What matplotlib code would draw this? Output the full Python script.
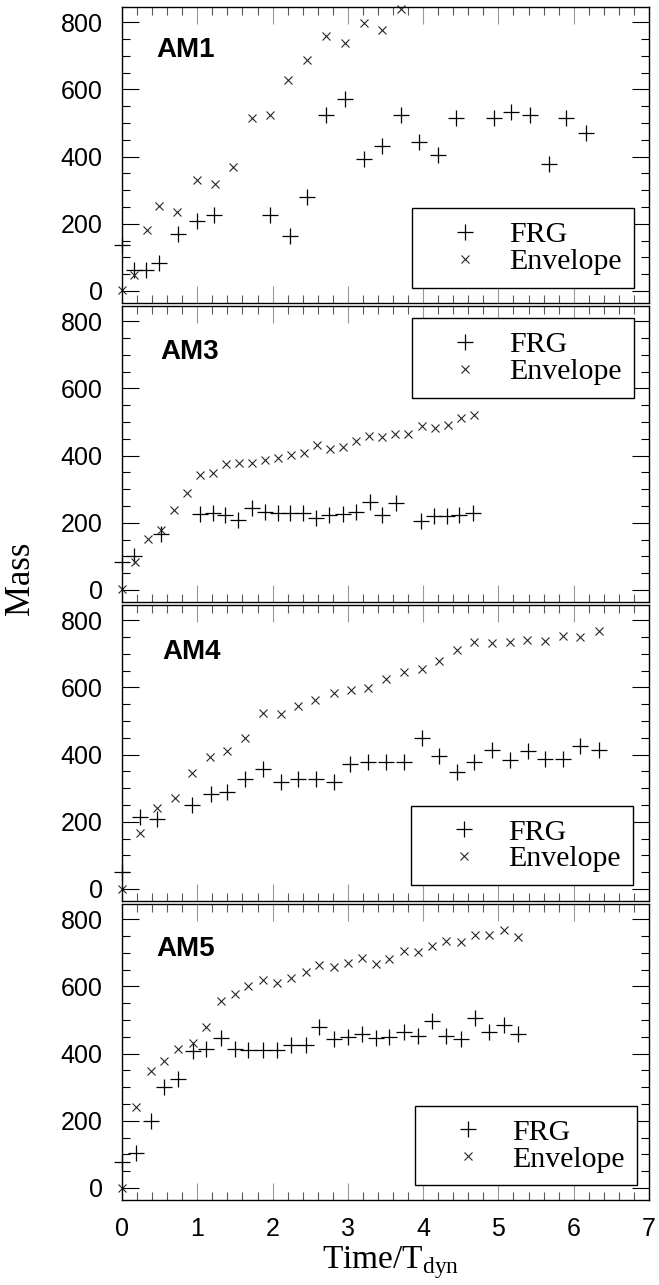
"""
Mass growth of FRG and envelope for four runs (AM1, AM3, AM4, AM5).
"""
import matplotlib
matplotlib.use("Agg")
import matplotlib.pyplot as plt
import matplotlib.ticker as mticker

plt.rcParams["font.family"] = ["Liberation Sans", "DejaVu Sans"]
plt.rcParams["mathtext.fontset"] = "custom"
plt.rcParams["mathtext.rm"] = "Liberation Serif"

SERIF = ["Liberation Serif", "DejaVu Serif"]

# ---------------------------------------------------------------------------
# Data
# ---------------------------------------------------------------------------
am1_frg_t = [0.0, 0.16, 0.32, 0.49, 0.74, 1.0, 1.22, 1.97, 2.23, 2.46, 2.71, 2.96,
             3.22, 3.45, 3.70, 3.95, 4.20, 4.44, 4.94, 5.17, 5.42, 5.67, 5.90, 6.16]
am1_frg_m = [136, 63, 63, 83, 169, 207, 226, 226, 162, 279, 523, 570,
             393, 431, 523, 443, 405, 514, 514, 532, 523, 378, 514, 470]
am1_env_t = [0.0, 0.16, 0.33, 0.49, 0.73, 0.99, 1.23, 1.48, 1.73, 1.97, 2.21, 2.46,
             2.71, 2.96, 3.21, 3.45, 3.70]
am1_env_m = [2, 47, 182, 252, 236, 330, 318, 368, 516, 524, 627, 687,
             759, 738, 798, 777, 839]

am3_frg_t = [0.0, 0.16, 0.52, 1.04, 1.21, 1.37, 1.54, 1.73, 1.90, 2.07, 2.23, 2.40,
             2.58, 2.75, 2.93, 3.11, 3.29, 3.46, 3.64, 3.97, 4.15, 4.32, 4.48, 4.66]
am3_frg_m = [82, 100, 166, 226, 228, 223, 209, 244, 231, 229, 229, 229,
             214, 223, 226, 231, 262, 223, 258, 206, 221, 221, 223, 228]
am3_env_t = [0.0, 0.17, 0.34, 0.52, 0.69, 0.86, 1.04, 1.21, 1.38, 1.55, 1.73, 1.90,
             2.07, 2.25, 2.42, 2.59, 2.76, 2.94, 3.11, 3.28, 3.46, 3.63, 3.80, 3.98,
             4.16, 4.33, 4.50, 4.67]
am3_env_m = [3, 82, 151, 179, 238, 288, 342, 349, 376, 377, 379, 387,
             392, 402, 407, 432, 419, 425, 442, 459, 454, 464, 464, 488,
             482, 492, 512, 522]

am4_frg_t = [0.0, 0.24, 0.46, 0.93, 1.18, 1.40, 1.64, 1.87, 2.11, 2.34, 2.58, 2.81,
             3.03, 3.27, 3.51, 3.74, 3.98, 4.21, 4.45, 4.68, 4.92, 5.15, 5.39, 5.62,
             5.86, 6.09, 6.33]
am4_frg_m = [51, 215, 207, 249, 282, 289, 326, 356, 319, 328, 328, 319,
             371, 379, 379, 379, 448, 396, 349, 379, 414, 384, 409, 386,
             386, 425, 414]
am4_env_t = [0.0, 0.24, 0.46, 0.70, 0.93, 1.17, 1.40, 1.64, 1.87, 2.11, 2.34, 2.57,
             2.81, 3.04, 3.27, 3.51, 3.74, 3.98, 4.21, 4.45, 4.68, 4.92, 5.15, 5.38,
             5.62, 5.86, 6.09, 6.33]
am4_env_m = [1, 167, 242, 272, 346, 394, 410, 448, 525, 521, 545, 563,
             582, 593, 597, 625, 646, 655, 677, 710, 734, 731, 734, 742,
             738, 754, 750, 769]

am5_frg_t = [0.0, 0.19, 0.38, 0.56, 0.75, 0.94, 1.12, 1.31, 1.50, 1.68, 1.87, 2.06,
             2.25, 2.44, 2.62, 2.82, 3.00, 3.19, 3.37, 3.55, 3.74, 3.93, 4.12, 4.30,
             4.50, 4.69, 4.88, 5.07, 5.26]
am5_frg_m = [76, 103, 200, 300, 324, 406, 412, 447, 414, 411, 411, 411,
             424, 424, 479, 442, 450, 457, 446, 450, 463, 451, 497, 451,
             444, 505, 463, 485, 457]
am5_env_t = [0.0, 0.19, 0.38, 0.56, 0.75, 0.94, 1.12, 1.31, 1.50, 1.68, 1.87, 2.06,
             2.25, 2.44, 2.62, 2.81, 3.00, 3.19, 3.37, 3.55, 3.74, 3.93, 4.12, 4.30,
             4.50, 4.69, 4.88, 5.07, 5.26]
am5_env_m = [0, 241, 348, 379, 413, 430, 478, 556, 577, 601, 619, 610,
             624, 644, 663, 658, 668, 685, 665, 680, 705, 701, 721, 735,
             731, 752, 752, 767, 746]

PANELS = [
    ("AM1", am1_frg_t, am1_frg_m, am1_env_t, am1_env_m),
    ("AM3", am3_frg_t, am3_frg_m, am3_env_t, am3_env_m),
    ("AM4", am4_frg_t, am4_frg_m, am4_env_t, am4_env_m),
    ("AM5", am5_frg_t, am5_frg_m, am5_env_t, am5_env_m),
]

# legend corner (axes coords) and which corner it is pinned by
LEGEND_POS = [
    ("lower right", (0.9715, 0.051)),
    ("upper right", (0.9715, 0.958)),
    ("lower right", (0.9705, 0.053)),
    ("lower right", (0.978, 0.049)),
]
LABEL_POS = [(0.066, 0.855), (0.073, 0.845), (0.076, 0.840), (0.066, 0.848)]

# ---------------------------------------------------------------------------
# Layout (pixels of a 659 x 1285 figure)
# ---------------------------------------------------------------------------
W, H = 659, 1285
LEFT, RIGHT = 122, 649
TOP0, PITCH, PANEL_H = 7, 299, 296


def _style_axes(ax, show_xlabels):
    ax.set_xlim(0, 7)
    ax.set_ylim(-36, 845)
    ax.xaxis.set_major_locator(mticker.MultipleLocator(1))
    ax.xaxis.set_minor_locator(mticker.MultipleLocator(0.2))
    ax.yaxis.set_major_locator(mticker.MultipleLocator(200))
    ax.yaxis.set_minor_locator(mticker.MultipleLocator(50))
    ax.tick_params(axis="both", which="both", direction="in",
                   top=True, right=True, width=0.8)
    ax.tick_params(axis="x", which="major", length=12, color="0.6",
                   pad=12, labelsize=18, labelbottom=show_xlabels)
    ax.tick_params(axis="x", which="minor", length=6, color="0.35")
    ax.tick_params(axis="y", which="major", length=12, pad=14, labelsize=18)
    ax.tick_params(axis="y", which="minor", length=6)
    for sp in ax.spines.values():
        sp.set_linewidth(1.0)


fig = plt.figure(figsize=(W / 100, H / 100), dpi=100)

for i, (name, ft, fm, et, em) in enumerate(PANELS):
    top = TOP0 + i * PITCH
    ax = fig.add_axes([LEFT / W, 1 - (top + PANEL_H) / H,
                       (RIGHT - LEFT) / W, PANEL_H / H])
    ax.plot(ft, fm, linestyle="none", marker="+", markersize=12,
            markeredgewidth=0.9, color="black", label="FRG", clip_on=False)
    ax.plot(et, em, linestyle="none", marker="x", markersize=5.5,
            markeredgewidth=0.8, color="0.15", label="Envelope", clip_on=False)
    _style_axes(ax, show_xlabels=(i == len(PANELS) - 1))

    lx, ly = LABEL_POS[i]
    ax.text(lx, ly, name, transform=ax.transAxes, fontsize=20,
            fontweight="bold", va="center", ha="left")

    loc, anchor = LEGEND_POS[i]
    leg = ax.legend(loc=loc, bbox_to_anchor=anchor, borderaxespad=0,
                    prop={"family": SERIF, "size": 21.5}, frameon=True,
                    fancybox=False, framealpha=1, edgecolor="black",
                    borderpad=0.43, handlelength=2.68, handletextpad=0.13,
                    labelspacing=0.0, numpoints=1)
    leg.get_frame().set_linewidth(1.0)

fig.text(21 / W, 1 - 578 / H, "Mass", rotation=90, ha="center", va="center",
         fontsize=25, family=SERIF)
fig.text(391 / W, 1 - 1268 / H, r"Time/T$_{\mathrm{dyn}}$", ha="center",
         va="baseline", fontsize=24, family=SERIF)

fig.savefig("out.png", dpi=100)
